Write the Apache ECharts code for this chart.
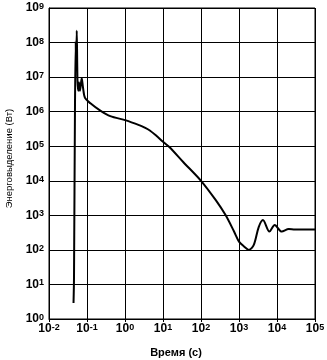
<!DOCTYPE html>
<html>
<head>
<meta charset="utf-8">
<script src="https://cdn.jsdelivr.net/npm/echarts@6/dist/echarts.min.js"></script>
<style>
  html, body { margin: 0; padding: 0; background: #fff; }
  #chart { width: 327px; height: 360px; }
</style>
</head>
<body>
<div id="chart"></div>
<script>
// время, с
const timeSec = [
  0.0442, 0.0455, 0.0483, 0.0505, 0.0515, 0.0537, 0.0562, 0.059, 0.0616, 0.0655,
  0.0725, 0.0785, 0.0886, 0.123, 0.224, 0.41, 1.06, 2.45, 3.3, 4.5, 6.7,
  10, 14.7, 34, 100, 245, 447, 741, 1000, 1350, 1820,
  2450, 3300, 4270, 6310, 8710, 13300, 20400, 29500, 100000
];
// энерговыделение, Вт
const powerW = [
  2.9, 16, 1.5e6, 1.1e8, 1.5e7, 2.2e8, 8e6, 4e6, 7e6, 4e6,
  9.5e6, 5e6, 2.5e6, 1.74e6, 1.07e6, 7.4e5, 5.6e5, 4e5, 3.45e5, 2.85e5, 2e5,
  1.35e5, 9.5e4, 3.5e4, 1e4, 2.75e3, 1e3, 340, 174, 126, 100,
  139, 457, 730, 338, 525, 338, 400, 390, 390
];
const xName = 'Время (с)';
const yName = 'Энерговыделение (Вт)';

const FONT = '"Liberation Sans", Arial, sans-serif';

// подписи вида 10^n
function powLabel(v){
  const e = Math.round(Math.log10(v));
  return '{b|10}{s|' + e + '}';
}
const richPow = {
  b: { fontSize: 12, fontWeight: 'bold', fontFamily: FONT, color: '#000', lineHeight: 12, padding: [4, 0, 4, 0], verticalAlign: 'middle' },
  s: { fontSize: 9, fontWeight: 'bold', fontFamily: FONT, color: '#000', lineHeight: 9, verticalAlign: 'top' }
};

const chart = echarts.init(document.getElementById('chart'), null, { renderer: 'canvas' });
chart.setOption({
  animation: false,
  backgroundColor: '#fff',
  grid: {
    left: 49, right: 12, top: 8, bottom: 41,
    containLabel: false, outerBoundsMode: 'none',
    show: true, borderColor: '#000', borderWidth: 1
  },
  xAxis: {
    type: 'log', logBase: 10, min: 0.01, max: 1e5, splitNumber: 7,
    name: xName, nameLocation: 'middle', nameGap: 28,
    nameTextStyle: { fontSize: 11, fontWeight: 'bold', fontFamily: FONT, color: '#000', padding: [0, 12, 0, 0] },
    axisLine: { lineStyle: { color: '#000', width: 1 } },
    axisTick: { show: true, length: 3, lineStyle: { color: '#000' } },
    minorTick: { show: false },
    splitLine: { show: true, lineStyle: { color: '#000', width: 1 } },
    axisLabel: { formatter: powLabel, rich: richPow, margin: 4, showMinLabel: true, showMaxLabel: true }
  },
  yAxis: {
    type: 'log', logBase: 10, min: 1, max: 1e9, splitNumber: 9,
    name: yName, nameLocation: 'middle', nameGap: 35, nameRotate: 90,
    nameTextStyle: { fontSize: 9.5, fontFamily: FONT, color: '#000', padding: [0, 0, 0, 10] },
    axisLine: { show: true, lineStyle: { color: '#000', width: 1 } },
    axisTick: { show: false },
    splitLine: { show: true, lineStyle: { color: '#000', width: 1 } },
    axisLabel: { formatter: powLabel, rich: richPow, margin: 5, showMinLabel: true, showMaxLabel: true }
  },
  series: [{
    type: 'line',
    data: timeSec.map((t, i) => [t, powerW[i]]),
    showSymbol: false,
    smooth: 0.3,
    lineStyle: { color: '#000', width: 2 }
  }]
});
</script>
</body>
</html>
